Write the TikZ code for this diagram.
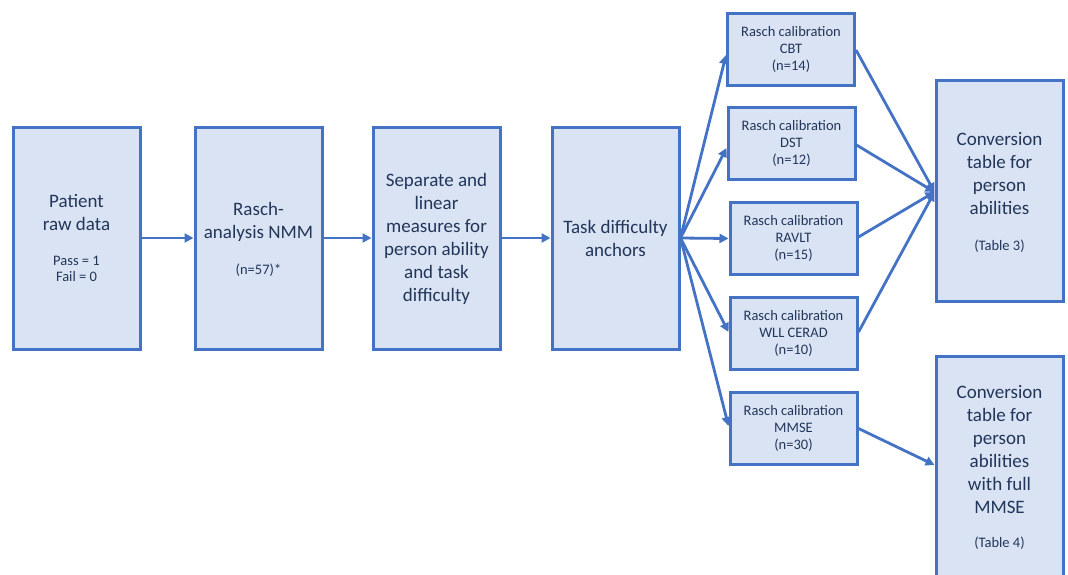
\documentclass[tikz,border=0pt]{standalone}
\usepackage{fontspec}
\setmainfont{Carlito}
\usetikzlibrary{arrows.meta}
\definecolor{bfill}{HTML}{DAE3F3}
\definecolor{bline}{HTML}{4472C4}
\definecolor{btext}{HTML}{22365A}
\begin{document}
\begin{tikzpicture}[x=1pt,y=-1pt,
  box/.style={draw=bline, fill=bfill, line width=3pt, minimum width=127pt, inner sep=0pt, text=btext, align=center},
  bigbox/.style={box, minimum height=222pt},
  calbox/.style={box, minimum height=72pt, font=\fontsize{14.5}{17}\selectfont},
  big/.style={text=btext, font=\fontsize{19}{23}\selectfont, align=center, inner sep=0pt},
  small/.style={text=btext, font=\fontsize{14.5}{16.5}\selectfont, align=center, inner sep=0pt},
  arr/.style={draw=bline, line width=2.8pt, -{Triangle[length=9pt,width=9pt]}}]
\useasboundingbox (0,0) rectangle (1068,574);
\clip (0,0) rectangle (1068,574);
% main boxes
\node[bigbox] (b1) at (76.5,238) {};
\node[bigbox] (b2) at (258.5,238) {};
\node[bigbox] (b3) at (436.5,238) {};
\node[bigbox] (b4) at (615.5,238) {};
\node[big] (t1) at (76.5,212.5) {Patient\\raw data};
\node[small] (t1s) at (76.5,269) {Pass = 1\\Fail = 0};
\node[big] (t2) at (258.5,221.5) {Rasch-\\analysis NMM};
\node[small] (t2s) at (258.5,270) {(n=57)*};
\node[big] (t3) at (436.5,238.5) {Separate and\\linear\\measures for\\person ability\\and task\\difficulty};
\node[big] (t4) at (615.5,238.5) {Task difficulty\\anchors};
% calibration boxes
\node[calbox] (cbt) at (791,49) {Rasch calibration\\CBT\\(n=14)};
\node[calbox] (dst) at (791.5,143.5) {Rasch calibration\\DST\\(n=12)};
\node[calbox] (ravlt) at (793.5,238.5) {Rasch calibration\\RAVLT\\(n=15)};
\node[calbox] (wll) at (793.5,333.5) {Rasch calibration\\WLL CERAD\\(n=10)};
\node[calbox] (mmse) at (793.5,428.5) {Rasch calibration\\MMSE\\(n=30)};
% conversion boxes
\node[box, minimum height=221pt] (c1) at (999.5,190.5) {};
\node[box, minimum height=224pt] (c2) at (999.5,468) {};
\node[big] (t5) at (999.5,174) {Conversion\\table for\\person\\abilities};
\node[small] (t5s) at (999.5,245.7) {(Table 3)};
\node[big] (t6) at (999.5,449.5) {Conversion\\table for\\person\\abilities\\with full\\MMSE};
\node[small] (t6s) at (999.5,543.3) {(Table 4)};
% arrows
\draw[arr] (b1.east) -- (b2.west);
\draw[arr] (b2.east) -- (b3.west);
\draw[arr] (b3.east) -- (b4.west);
\draw[arr] (b4.east) -- ([yshift=-6pt]cbt.west);
\draw[arr] (b4.east) -- ([yshift=-4.5pt]dst.west);
\draw[arr] (b4.east) -- (ravlt.west);
\draw[arr] (b4.east) -- ([yshift=1.5pt]wll.west);
\draw[arr] (b4.east) -- ([yshift=2.5pt]mmse.west);
\draw[arr] ([yshift=-1pt]cbt.east) -- ([yshift=-1.5pt]c1.west);
\draw[arr] ([yshift=-1.5pt]dst.east) -- ([yshift=-1.5pt]c1.west);
\draw[arr] ([yshift=1.5pt]ravlt.east) -- ([yshift=-1.5pt]c1.west);
\draw[arr] ([yshift=1.5pt]wll.east) -- ([yshift=-1.5pt]c1.west);
\draw[arr] (mmse.east) -- ([yshift=3pt]c2.west);
\end{tikzpicture}
\end{document}
